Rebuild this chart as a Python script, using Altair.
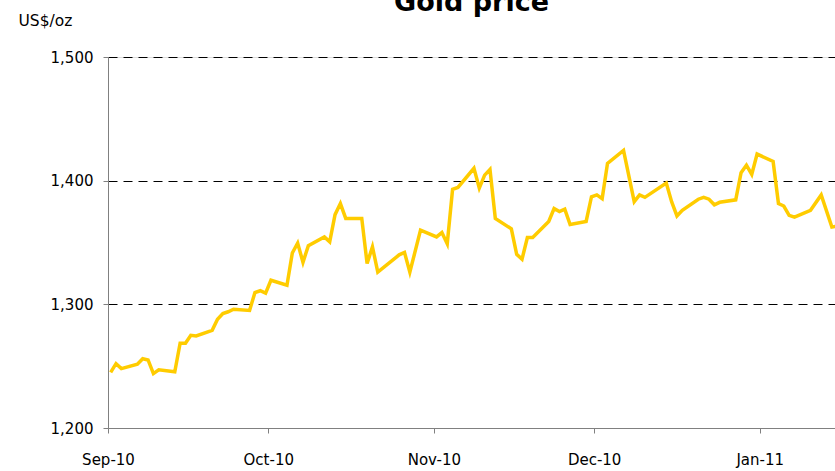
import altair as alt
import pandas as pd

# Gold price, US$/oz (daily)
dates = [
    "2010-09-01", "2010-09-02", "2010-09-03", "2010-09-06", "2010-09-07", "2010-09-08",
    "2010-09-09", "2010-09-10", "2010-09-13", "2010-09-14", "2010-09-15", "2010-09-16",
    "2010-09-17", "2010-09-20", "2010-09-21", "2010-09-22", "2010-09-23", "2010-09-24",
    "2010-09-27", "2010-09-28", "2010-09-29", "2010-09-30", "2010-10-01", "2010-10-04",
    "2010-10-05", "2010-10-06", "2010-10-07", "2010-10-08", "2010-10-11", "2010-10-12",
    "2010-10-13", "2010-10-14", "2010-10-15", "2010-10-18", "2010-10-19", "2010-10-20",
    "2010-10-21", "2010-10-25", "2010-10-26", "2010-10-27", "2010-10-29", "2010-11-01",
    "2010-11-02", "2010-11-03", "2010-11-04", "2010-11-05", "2010-11-08", "2010-11-09",
    "2010-11-10", "2010-11-11", "2010-11-12", "2010-11-15", "2010-11-16", "2010-11-17",
    "2010-11-18", "2010-11-19", "2010-11-22", "2010-11-23", "2010-11-24", "2010-11-25",
    "2010-11-26", "2010-11-29", "2010-11-30", "2010-12-01", "2010-12-02", "2010-12-03",
    "2010-12-06", "2010-12-08", "2010-12-09", "2010-12-10", "2010-12-14", "2010-12-15",
    "2010-12-16", "2010-12-17", "2010-12-20", "2010-12-21", "2010-12-22", "2010-12-23",
    "2010-12-24", "2010-12-27", "2010-12-28", "2010-12-29", "2010-12-30", "2010-12-31",
    "2011-01-03", "2011-01-04", "2011-01-05", "2011-01-06", "2011-01-07", "2011-01-10",
    "2011-01-12", "2011-01-14", "2011-01-17",
]
prices = [
    1245, 1252, 1248, 1251.5, 1256, 1255,
    1244, 1247, 1245.5, 1268.5, 1268.5, 1275,
    1274.5, 1279, 1288, 1292.5, 1294, 1296,
    1295, 1309.5, 1311, 1309, 1319.5, 1315.5,
    1341.5, 1349.5, 1334, 1347.5, 1354.5, 1350.5,
    1372.5, 1381.5, 1369.5, 1369.5, 1333, 1346.5,
    1326, 1340, 1342, 1326, 1360, 1354.5,
    1358, 1349, 1393, 1394.5, 1410, 1394,
    1404.5, 1409, 1369.5, 1361, 1340.5, 1336.5,
    1354, 1354, 1367, 1377.5, 1375, 1377,
    1364.5, 1367, 1387, 1388.5, 1385.5, 1414,
    1424.5, 1383, 1388.5, 1386.5, 1398, 1383,
    1371.5, 1376, 1385, 1386.5, 1385, 1380.5,
    1382.5, 1384.5, 1406.5, 1412.5, 1405, 1421.5,
    1415.5, 1381.5, 1379.5, 1372, 1370.5, 1376,
    1388.5, 1362.5, 1364.5,
]
tick_months = ["2010-09-01", "2010-10-01", "2010-11-01", "2010-12-01", "2011-01-01"]
y_ticks = [1200, 1300, 1400, 1500]

df = pd.DataFrame({
    "date": pd.to_datetime(dates) + pd.Timedelta(hours=12),
    "price": prices,
})


def dt(s, hours=0):
    t = pd.Timestamp(s)
    return alt.DateTime(year=t.year, month=t.month, date=t.day, hours=hours)


FONT = "DejaVu Sans"

x = alt.X(
    "date:T",
    scale=alt.Scale(domain=[dt("2010-09-01"), dt("2011-01-15", 2)]),
    axis=alt.Axis(
        values=[dt(s) for s in tick_months],
        format="%b-%y",
        title=None,
        grid=False,
        tickSize=5,
        labelPadding=19,
        labelFlush=False,
        labelAngle=0,
        labelAlign="center",
        labelFont=FONT,
        labelFontSize=15,
        labelColor="#000000",
        domainColor="#808080",
        tickColor="#808080",
    ),
)

y = alt.Y(
    "price:Q",
    scale=alt.Scale(domain=[1200, 1500], nice=False, zero=False),
    axis=alt.Axis(
        values=y_ticks,
        format=",.0f",
        grid=True,
        gridColor="#000000",
        gridDash=[9, 6],
        gridWidth=1,
        gridOpacity=alt.condition("datum.value <= 1200", alt.value(0), alt.value(1)),
        tickSize=5,
        labelPadding=10,
        labelFlush=False,
        labelFont=FONT,
        labelFontSize=15,
        labelColor="#000000",
        domainColor="#808080",
        tickColor="#808080",
        title="US$/oz",
        titleAngle=0,
        titleAlign="left",
        titleBaseline="middle",
        titleX=-90,
        titleY=-37,
        titleFont=FONT,
        titleFontSize=15.5,
        titleFontWeight="normal",
        titleColor="#000000",
    ),
)

chart = (
    alt.Chart(df)
    .mark_line(color="#FFCC00", strokeWidth=3.5, clip=True)
    .encode(x=x, y=y)
    .properties(
        width=727,
        height=371,
        autosize="none",
        padding={"left": 108, "top": 57, "right": 0, "bottom": 43},
        title=alt.TitleParams(
            "Gold price",
            font=FONT,
            fontSize=27,
            fontWeight="bold",
            color="#000000",
            anchor="middle",
            baseline="alphabetic",
            offset=-25,
        ),
    )
    .configure_view(stroke=None)
    .configure(background="white")
)

chart.save("out.html", embed_options={"renderer": "svg", "actions": False})
